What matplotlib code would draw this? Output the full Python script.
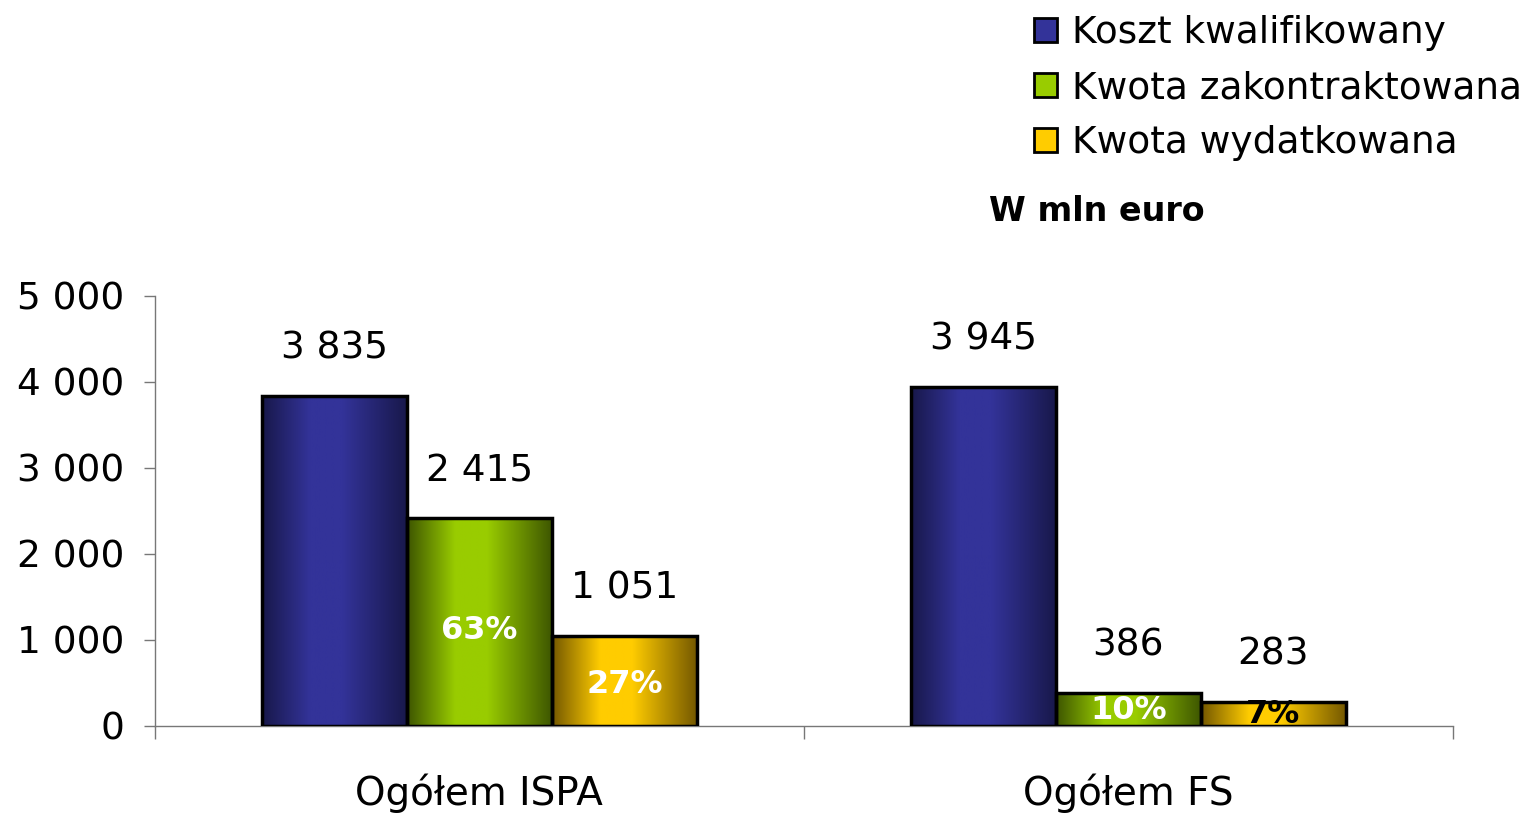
import numpy as np
import matplotlib
matplotlib.use("Agg")
import matplotlib.pyplot as plt
from matplotlib.colors import LinearSegmentedColormap
from matplotlib.patches import Patch

categories = ["Ogółem ISPA", "Ogółem FS"]
series = ["Koszt kwalifikowany", "Kwota zakontraktowana", "Kwota wydatkowana"]
koszt = [3835, 3945]
zakontraktowana = [2415, 386]
wydatkowana = [1051, 283]
value_labels = [["3 835", "3 945"], ["2 415", "386"], ["1 051", "283"]]
pct_labels = [[None, None], ["63%", "10%"], ["27%", "7%"]]
yticks = [0, 1000, 2000, 3000, 4000, 5000]
ytick_labels = ["0", "1 000", "2 000", "3 000", "4 000", "5 000"]

# dark edge, light centre
palettes = [("#18184a", "#333399"), ("#3d5500", "#99cc00"), ("#735700", "#ffcc00")]
pct_colors = [[None, None], ["white", "white"], ["white", "black"]]

plt.rcParams["font.family"] = "DejaVu Sans"

fig = plt.figure(figsize=(15.25, 8.16), dpi=100)
ax = fig.add_axes([0.1016, 0.1103, 0.8511, 0.527])

values = [koszt, zakontraktowana, wydatkowana]
x = np.arange(len(categories)) + 0.5
w = 0.2235
grad = np.linspace(0, 1, 256).reshape(1, -1)

for i, vals in enumerate(values):
    dark, light = palettes[i]
    cmap = LinearSegmentedColormap.from_list(
        f"g{i}", [(0, dark), (0.33, light), (0.55, light), (1, dark)])
    bars = ax.bar(x + (i - 1) * w, vals, w, facecolor="none",
                  edgecolor="black", linewidth=2.5, zorder=3)
    for j, b in enumerate(bars):
        x0, y0 = b.get_x(), b.get_y()
        im = ax.imshow(grad, cmap=cmap, aspect="auto", zorder=2,
                       extent=[x0, x0 + b.get_width(), y0, y0 + b.get_height()])
        im.set_clip_path(b)
        ax.annotate(value_labels[i][j], (x0 + b.get_width() / 2, vals[j]),
                    xytext=(0, 21), textcoords="offset points",
                    ha="center", va="bottom", fontsize=27)
        if pct_labels[i][j]:
            ax.text(x0 + b.get_width() / 2, vals[j] * 0.46, pct_labels[i][j],
                    ha="center", va="center", fontsize=23, fontweight="bold",
                    color=pct_colors[i][j], zorder=4)

ax.set_xlim(0, 2)
ax.set_ylim(0, 5000)
ax.set_yticks(yticks)
ax.set_yticklabels(ytick_labels, fontsize=27)
ax.set_xticks(x)
ax.set_xticklabels(categories, fontsize=28)
ax.set_xticks([0, 1, 2], minor=True)
ax.tick_params(axis="x", which="major", length=0, pad=34)
ax.tick_params(axis="x", which="minor", length=9, width=1, color="#777777")
ax.tick_params(axis="y", length=8, width=1, color="#777777", pad=14)
for s in ["top", "right"]:
    ax.spines[s].set_visible(False)
for s in ["left", "bottom"]:
    ax.spines[s].set_color("#777777")
    ax.spines[s].set_linewidth(1)

handles = [Patch(facecolor=palettes[i][1], edgecolor="black", linewidth=2)
           for i in range(3)]
fig.legend(handles, series, loc="upper left", bbox_to_anchor=(0.666, 1.004),
           frameon=False, fontsize=27, handlelength=0.6, handleheight=0.6,
           handletextpad=0.4, labelspacing=0.5, borderaxespad=0.1)
fig.text(0.719, 0.741, "W mln euro", ha="center", va="center",
         fontsize=24, fontweight="bold")

fig.savefig("out.png", dpi=100)
